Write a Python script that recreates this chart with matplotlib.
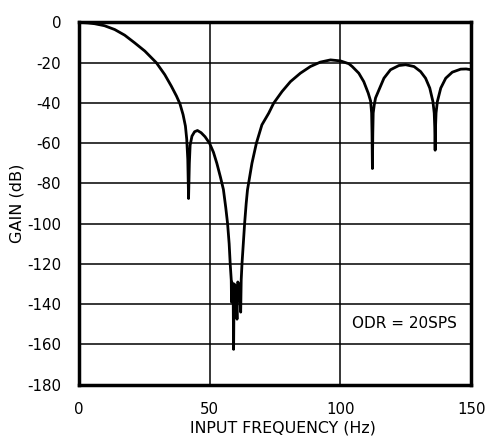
import numpy as np
import matplotlib
matplotlib.use('Agg')
import matplotlib.pyplot as plt

plt.rcParams['font.family'] = ['DejaVu Sans']
plt.rcParams['axes.unicode_minus'] = False

# values (Hz, dB)
freq_hz = [0, 1.0, 3.5, 6.1, 9.9, 13.8, 17.6, 21.4, 25.3, 29.7, 32.9, 35.4,
           37.4, 38.7, 39.9, 40.8, 41.3, 41.7, 42.0, 42.3, 42.6, 43.3, 44.3,
           45.4, 46.8, 48.3, 50, 51.5, 52.8, 54.2, 55.3, 56.2, 56.9, 57.5,
           57.9, 58.3, 58.4, 58.5, 59.0, 59.2, 59.4, 60.0, 60.5, 60.8, 61.4,
           61.9, 62.1, 62.4, 62.9, 63.4, 64.0, 64.5, 66.2, 67.9, 70.0, 72.6,
           74.5, 77.7, 80.9, 84.7, 88.5, 92.3, 96.2, 100, 103.2, 104.5, 107,
           108.9, 110.6, 111.5, 111.9, 112.05, 112.2, 112.35, 112.5, 112.9,
           113.4, 114.7, 116.6, 119.1, 122.3, 124.9, 128.1, 130.6, 132.5,
           134.1, 135.3, 135.8, 136.0, 136.15, 136.3, 136.5, 137.0, 138.3,
           140.2, 142.7, 145.9, 148.0, 150]
gain_db = [0, 0, -0.2, -0.6, -1.6, -3.5, -6.3, -10.1, -14.2, -20, -25.9,
           -31.6, -36.6, -40.4, -45.8, -51.5, -58, -68, -87.5, -70, -61,
           -56.5, -54.3, -53.7, -54.8, -56.8, -60, -64.5, -70, -77, -83, -92,
           -100, -110, -120, -128, -139, -129, -131, -162.5, -130, -131,
           -147.5, -129, -131, -144, -128, -120, -110, -100, -90, -83.2, -70,
           -60, -50.9, -45.1, -40.1, -34.3, -29.4, -25.2, -21.9, -19.7, -18.6,
           -19.1, -20.5, -21.9, -25.2, -29.4, -35.1, -39, -45, -55, -72.6,
           -55, -45, -41, -37.5, -33.5, -27.7, -23.5, -21.4, -21, -21.9,
           -24.4, -27.7, -32.6, -39.3, -45, -52, -63.5, -52, -45, -39.3,
           -32.6, -27.7, -24.7, -23.2, -23.1, -23.5]

x_ticks = [0, 50, 100, 150]
y_ticks = list(range(0, -181, -20))

fig = plt.figure(figsize=(4.88, 4.41), dpi=100)
ax = fig.add_axes([0.161, 0.128, 0.805, 0.821])

ax.plot(freq_hz, gain_db, color='black', lw=2.0, solid_joinstyle='round')

ax.set_xlim(0, 150)
ax.set_ylim(-180, 0)
ax.set_xticks(x_ticks)
ax.set_yticks(y_ticks)
ax.grid(True, color='black', lw=1.1)
ax.tick_params(length=0, labelsize=10.8, pad=12.5)
for s in ax.spines.values():
    s.set_linewidth(2.5)

ax.set_xlabel('INPUT FREQUENCY (Hz)', fontsize=11.4, labelpad=7)
ax.xaxis.set_label_coords(0.52, -0.1)
ax.set_ylabel('GAIN (dB)', fontsize=11.6, labelpad=2)

ax.text(124.6, -149.5, 'ODR = 20SPS', fontsize=11, ha='center', va='center')

fig.savefig('out.png', dpi=100)
